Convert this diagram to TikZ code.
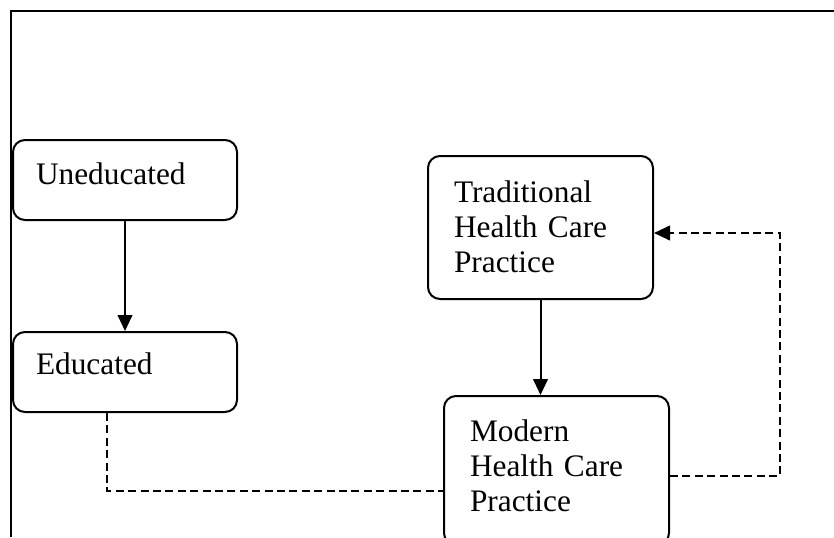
\documentclass[tikz,border=0pt]{standalone}
\usepackage{fontspec}
\setmainfont{Liberation Serif}
\usetikzlibrary{arrows.meta, positioning}
\tikzset{%
	stage box/.style={
		draw,
		rounded corners=9pt,
		anchor=north west,
		inner ysep=0pt,
		align=left,
		line width=1.5pt,
		font=\fontsize{23.5}{26.25}\selectfont
	},
	link line/.style={
		line width=1.5pt
	},
	dash line/.style={
		line width=1.5pt,
		dash pattern=on 6pt off 3.3pt
	},
}
\begin{document}
\begin{tikzpicture}[x=0.75pt, y=-0.75pt, >={Triangle[length=12pt, width=11pt]}]

	\useasboundingbox (0,0) rectangle (834,537);
	\clip (0,0) rectangle (834,537);

	% outer frame
	\draw [link line] (11,537) -- (11,11) -- (834,11);

	\node [stage box, inner xsep=17.25pt, text width=133.5pt, text height=33pt, text depth=27pt] (uned) at (12,139) {Uneducated};
	\node [stage box, inner xsep=17.25pt, text width=133.5pt, text height=32pt, text depth=28pt] (edu) at (12,331) {Educated};
	\node [stage box, inner xsep=19.5pt, text width=129.75pt, text height=34.5pt, text depth=72.75pt] (trad) at (427,155) {Traditional\\Health Care\\Practice};
	\node [stage box, inner xsep=19.5pt, text width=129.75pt, text height=33.75pt, text depth=78pt] (mod) at (443,395) {Modern\\Health Care\\Practice};

	\coordinate (ed-low) at (107,491);
	\coordinate (fb-low) at (780,476);
	\coordinate (fb-high) at (780,233);

	\draw [link line, ->] (uned) -- (edu);
	\draw [link line, ->] (trad.south) -- (trad.south |- mod.north);

	\draw [dash line] (ed-low |- edu.south) -- (ed-low) -- (ed-low -| mod.west);
	\draw [dash line, ->] (fb-low -| mod.east) -- (fb-low) -- (fb-high) -- (fb-high -| trad.east);

\end{tikzpicture}
\end{document}
